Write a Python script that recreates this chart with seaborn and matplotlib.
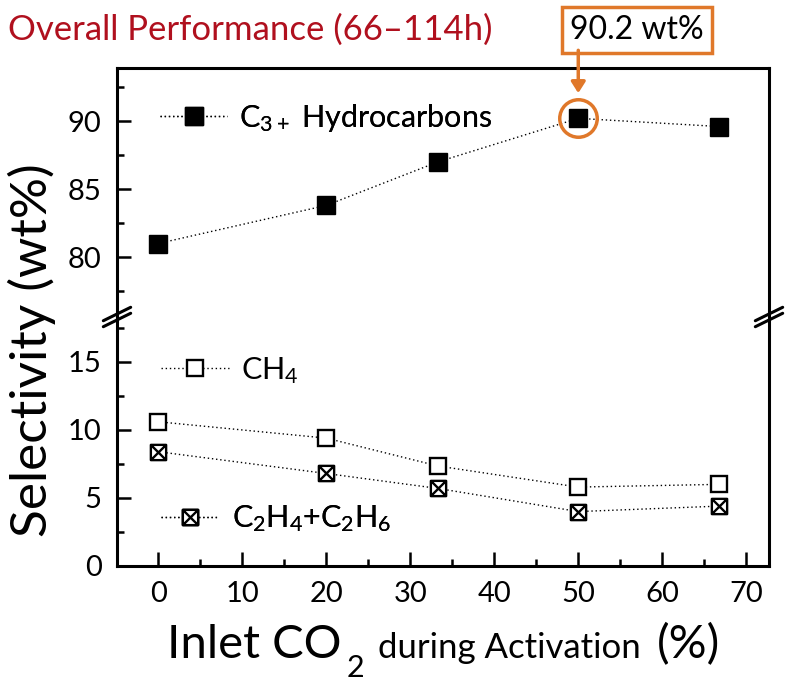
import matplotlib.pyplot as plt
import pandas as pd
import seaborn as sns
from matplotlib.path import Path

# values
co2_inlet = [0, 20, 33.3, 50, 66.7]
c3_plus = [81.0, 83.8, 87.0, 90.2, 89.6]
ch4 = [10.6, 9.4, 7.35, 5.8, 6.0]
c2_sum = [8.4, 6.8, 5.7, 4.0, 4.4]

series_labels = ["C$_{3+}$ Hydrocarbons", "CH$_4$", "C$_2$H$_4$+C$_2$H$_6$"]
title_text = "Overall Performance (66–114h)"
highlight_idx = 3
highlight_text = f"{c3_plus[highlight_idx]:.1f} wt%"

x_ticks = list(range(0, 71, 10))
top_ticks = [80, 85, 90]
bottom_ticks = [0, 5, 10, 15]

ORANGE = "#E0782A"
DARK_RED = "#B0101E"
DOTS = (0, (1, 2))

sns.set_theme(style="ticks")
plt.rcParams["font.family"] = ["Lato", "DejaVu Sans"]
plt.rcParams["mathtext.default"] = "regular"
plt.rcParams["text.color"] = "black"
plt.rcParams["axes.labelcolor"] = "black"

df = pd.DataFrame({"co2": co2_inlet, "c3": c3_plus, "ch4": ch4, "c2": c2_sum})

# square with a cross in it
crossed_square = Path(
    [(-1, -1), (1, -1), (1, 1), (-1, 1), (-1, -1), (-1, -1), (1, 1), (-1, 1), (1, -1)],
    [Path.MOVETO, Path.LINETO, Path.LINETO, Path.LINETO, Path.CLOSEPOLY,
     Path.MOVETO, Path.LINETO, Path.MOVETO, Path.LINETO],
)

fig = plt.figure(figsize=(7.93, 6.82), dpi=100)
left, right = 117 / 793, 769 / 793
top, bottom = 1 - 68 / 682, 1 - 566 / 682
mid = (top + bottom) / 2
ax_top = fig.add_axes([left, mid, right - left, top - mid])
ax_bot = fig.add_axes([left, bottom, right - left, mid - bottom], sharex=ax_top)

line_kw = dict(color="black", linestyle=DOTS, linewidth=1.0, markeredgecolor="black")
sns.lineplot(data=df, x="co2", y="c3", ax=ax_top, marker="s", markersize=13,
             markerfacecolor="black", markeredgewidth=1.0, **line_kw)
sns.lineplot(data=df, x="co2", y="ch4", ax=ax_bot, marker="s", markersize=11,
             markerfacecolor="white", markeredgewidth=1.7, **line_kw)
sns.lineplot(data=df, x="co2", y="c2", ax=ax_bot, marker=crossed_square, markersize=11,
             markerfacecolor="white", markeredgewidth=1.7, **line_kw)

h_c3 = ax_top.lines[0]
h_ch4, h_c2 = ax_bot.lines[0], ax_bot.lines[1]

# highlight ring around the best point
ax_top.plot([co2_inlet[highlight_idx]], [c3_plus[highlight_idx]], marker="o", markersize=27,
            markerfacecolor="none", markeredgecolor=ORANGE, markeredgewidth=2.5, linestyle="none")

ax_top.set_xlim(-4.9, 72.7)
ax_top.set_ylim(75.6, 93.9)
ax_bot.set_ylim(0, 18.3)

ax_top.set_yticks(top_ticks)
ax_top.set_yticks([77.5, 82.5, 87.5, 92.5], minor=True)
ax_bot.set_yticks(bottom_ticks)
ax_bot.set_yticks([2.5, 7.5, 12.5, 17.5], minor=True)
ax_bot.set_xticks(x_ticks)
ax_bot.set_xticks([5, 15, 25, 35, 45, 55, 65], minor=True)

for ax in (ax_top, ax_bot):
    ax.set_xlabel("")
    ax.set_ylabel("")
    for side in ("left", "right", "top", "bottom"):
        ax.spines[side].set_linewidth(2.2)
        ax.spines[side].set_color("black")
    ax.tick_params(axis="both", which="major", direction="in", length=10, width=1.8,
                   labelsize=21, pad=11, color="black", labelcolor="black")
    ax.tick_params(axis="both", which="minor", direction="in", length=5, width=1.8, color="black")
    ax.tick_params(top=False, right=False, which="both")

ax_top.spines["bottom"].set_visible(False)
ax_bot.spines["top"].set_visible(False)
ax_top.tick_params(axis="x", which="both", bottom=False, labelbottom=False)

# break marks on the left and right spines
for xa in (0, 1):
    for dy in (-0.012, 0.012):
        ax_bot.plot([xa - 0.021, xa + 0.021], [1 + dy - 0.027, 1 + dy + 0.027],
                    transform=ax_bot.transAxes, color="black", lw=2.2, clip_on=False)

# in-plot legends
def place_legend(ax, handle, label, x, y, hlen):
    leg = ax.legend([handle], [label], loc="center left", bbox_to_anchor=(x, y),
                    frameon=False, fontsize=22, handlelength=hlen, handletextpad=0.4,
                    borderpad=0, borderaxespad=0, labelcolor="black")
    ax.add_artist(leg)


place_legend(ax_top, h_c3, series_labels[0], 0.066, 0.80, 2.2)
place_legend(ax_bot, h_ch4, series_labels[1], 0.068, 0.785, 2.2)
place_legend(ax_bot, h_c2, series_labels[2], 0.068, 0.19, 1.9)

# callout for the highlighted value: boxed label plus a vertical arrow
ax_top.text(57.0, 96.7, highlight_text, ha="center", va="center", fontsize=23, clip_on=False,
            bbox=dict(boxstyle="square,pad=0.25", fc="white", ec=ORANGE, lw=2.5))
ax_top.annotate("", xy=(co2_inlet[highlight_idx], 92.05), xytext=(co2_inlet[highlight_idx], 95.2),
                annotation_clip=False,
                arrowprops=dict(arrowstyle="-|>,head_length=0.55,head_width=0.35", color=ORANGE,
                                lw=2.5, shrinkA=0, shrinkB=0))

fig.text(8 / 793, 1 - 30 / 682, title_text, color=DARK_RED, fontsize=25, ha="left", va="center")
fig.text(32 / 793, 1 - 350 / 682, "Selectivity (wt%)", rotation=90, fontsize=37,
         ha="center", va="center")

# x axis title in three sizes
base_y = 1 - 658 / 682
fig.text(167 / 793, base_y, "Inlet CO", fontsize=34, ha="left", va="baseline")
fig.text(347 / 793, 1 - 677 / 682, "2", fontsize=22, ha="left", va="baseline")
fig.text(378 / 793, base_y, "during Activation", fontsize=25, ha="left", va="baseline")
fig.text(657 / 793, base_y, "(%)", fontsize=34, ha="left", va="baseline")

fig.savefig("out.png", dpi=100)
plt.close(fig)
